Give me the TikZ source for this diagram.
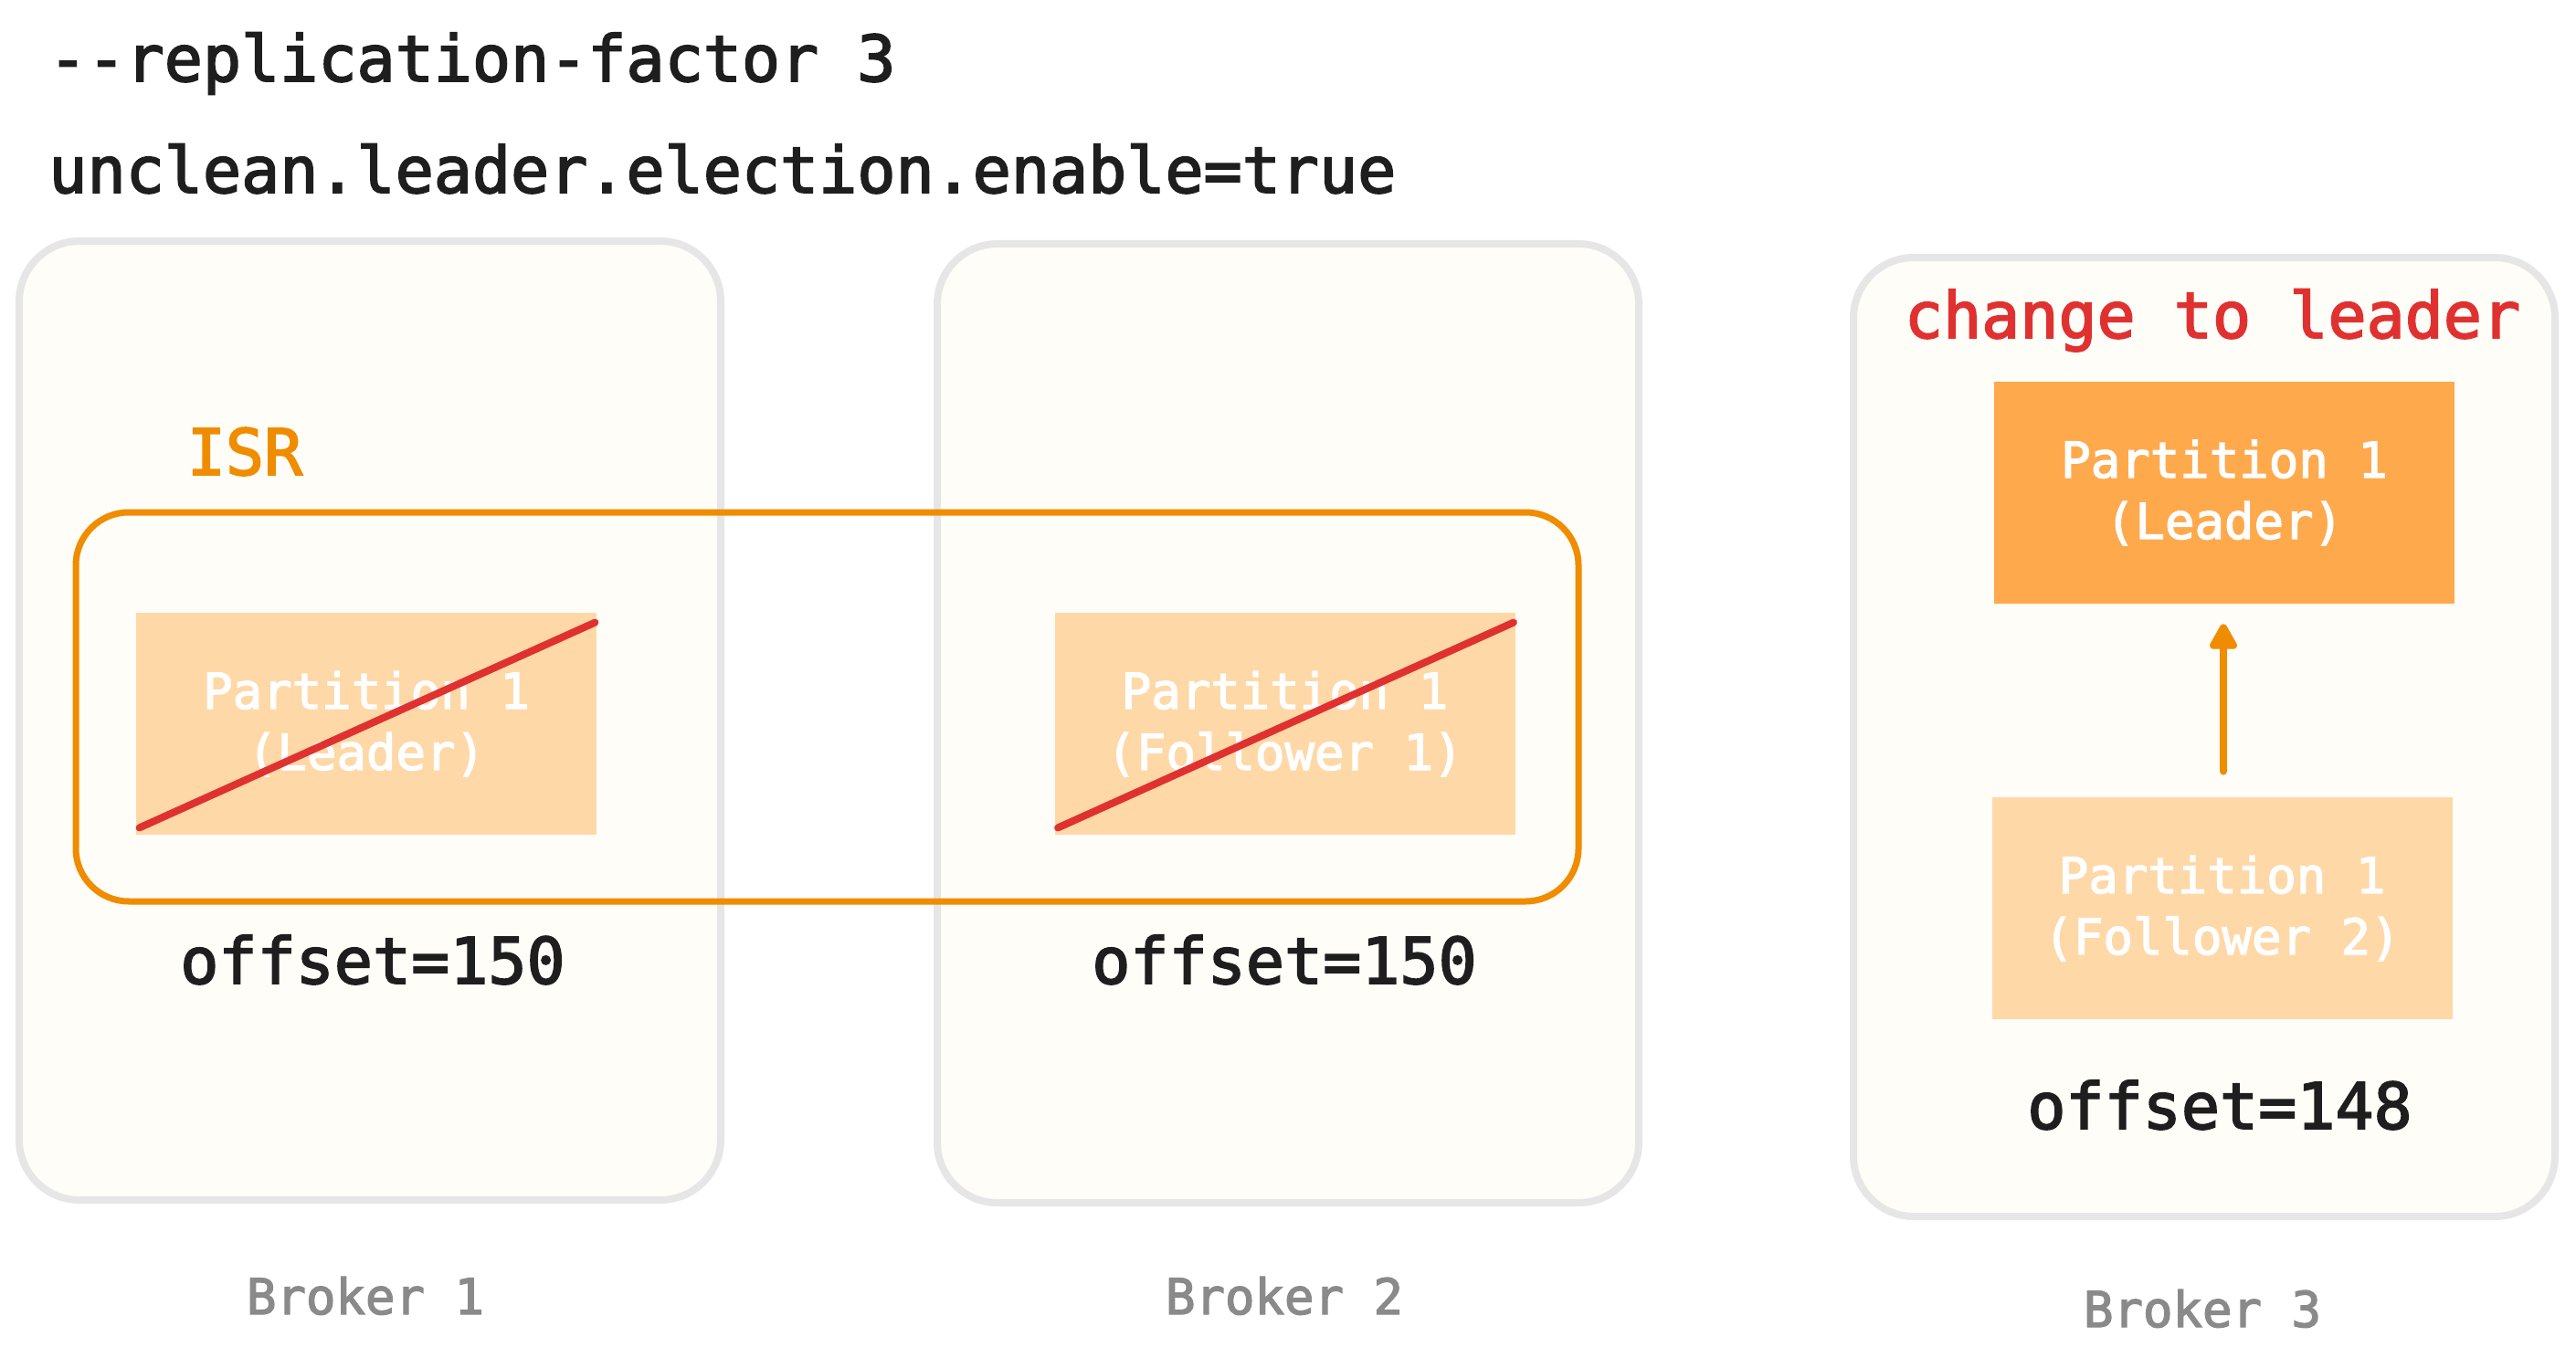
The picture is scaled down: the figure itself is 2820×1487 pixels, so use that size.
\documentclass[tikz,border=0pt]{standalone}
\usepackage{fontspec}
\setmonofont[FakeBold=2.5]{DejaVu Sans Mono}
\usetikzlibrary{calc,arrows.meta}
\definecolor{boxfill}{HTML}{FFFDF8}
\definecolor{boxline}{HTML}{E6E6E6}
\definecolor{isrorange}{HTML}{F08C00}
\definecolor{plight}{HTML}{FFD8A8}
\definecolor{pdark}{HTML}{FFA94D}
\definecolor{strike}{HTML}{E03131}
\definecolor{txtdark}{HTML}{1E1E1E}
\definecolor{txtgray}{HTML}{8A8A8A}
\begin{document}
\begin{tikzpicture}[x=0.5pt,y=-0.5pt,
  broker/.style={draw=boxline, fill=boxfill, line width=4pt, rounded corners=33pt,
    inner sep=0pt, minimum width=384pt, minimum height=525pt},
  isrbox/.style={draw=isrorange, line width=3.5pt, rounded corners=29pt,
    inner sep=0pt, minimum width=822.5pt, minimum height=213pt},
  part/.style={fill=plight, inner sep=0pt, minimum width=252pt, minimum height=121.5pt,
    text=white, align=center, font=\ttfamily\fontsize{27pt}{33.5pt}\selectfont},
  partlead/.style={part, fill=pdark},
  bigtxt/.style={inner sep=0pt, anchor=base, font=\ttfamily\fontsize{35pt}{42pt}\selectfont},
  headtxt/.style={bigtxt, anchor=base west, text=txtdark},
  offtxt/.style={bigtxt, text=txtdark},
  brokerlbl/.style={inner sep=0pt, anchor=base, text=txtgray, font=\ttfamily\fontsize{27pt}{33pt}\selectfont},
  strikeline/.style={draw=strike, line width=4pt, line cap=round},
  promote/.style={draw=isrorange, line width=4pt, line cap=round,
    -{Triangle[length=16pt,width=16.5pt,round]}}
]
\useasboundingbox (0,0) rectangle (2820,1487);
\fill[white] (0,0) rectangle (2820,1487);

% header texts
\node[headtxt] (h1) at (53,89) {--replication-factor 3};
\node[headtxt] (h2) at (53,211) {unclean.leader.election.enable=true};

% broker boxes
\node[broker] (b1) at (405,789) {};
\node[broker] (b2) at (1410,792) {};
\node[broker] (b3) at (2413,807) {};

% ISR group
\node[isrbox] (isr) at (905.5,774) {};
\node[bigtxt, text=isrorange] (isrlbl) at (268,520) {ISR};

% partitions
\node[part] (p1) at (401,792.5) {Partition 1\\(Leader)};
\node[part] (p2) at (1406.5,792.5) {Partition 1\\(Follower 1)};
\node[partlead] (p3l) at (2435,539.5) {Partition 1\\(Leader)};
\node[part] (p3f) at (2432.5,994.5) {Partition 1\\(Follower 2)};

% strike-through lines
\draw[strikeline] ($(p1.south west)+(4,-8)$) -- ($(p1.north east)+(-2,11)$);
\draw[strikeline] ($(p2.south west)+(4,-8)$) -- ($(p2.north east)+(-2,11)$);

% promotion arrow
\coordinate (ax) at (2434,0);
\draw[promote, shorten <=14pt, shorten >=11pt] (p3f.north -| ax) -- (p3l.south -| ax);

\node[bigtxt, text=strike] (chg) at (2422,370) {change to leader};

% offsets
\node[offtxt] (o1) at (408,1077) {offset=150};
\node[offtxt] (o2) at (1406,1077) {offset=150};
\node[offtxt] (o3) at (2430,1236) {offset=148};

% broker labels
\node[brokerlbl] (l1) at (400,1439) {Broker 1};
\node[brokerlbl] (l2) at (1406,1439) {Broker 2};
\node[brokerlbl] (l3) at (2411,1453) {Broker 3};
\end{tikzpicture}
\end{document}
